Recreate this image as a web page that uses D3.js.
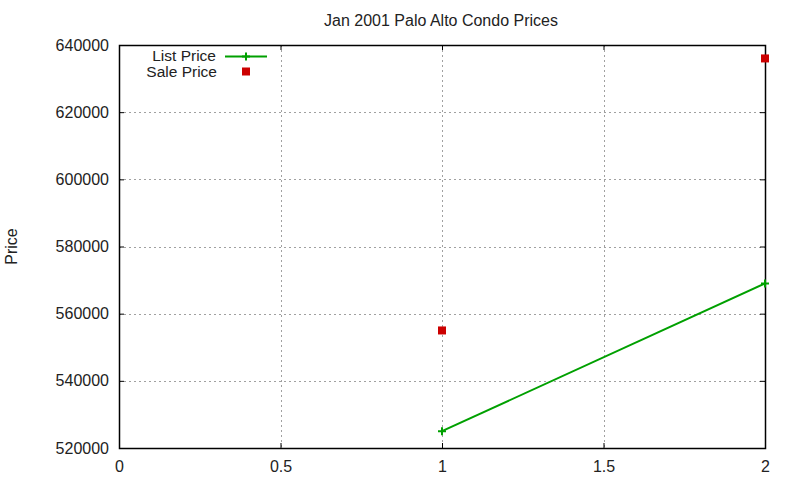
<!DOCTYPE html>
<html>
<head>
<meta charset="utf-8">
<script src="https://cdn.jsdelivr.net/npm/d3@7"></script>
<style>
  body { margin: 0; background: white; }
  text { font-family: "Liberation Sans", Arial, sans-serif; fill: #222; }
</style>
</head>
<body>
<div id="chart"></div>
<script>
// ---------- data ----------
const listX = [1, 2];
const listPrice = [525000, 569000];
const saleX = [1, 2];
const salePrice = [555000, 636000];
const xTicks = [0, 0.5, 1, 1.5, 2];
const yTicks = [520000, 540000, 560000, 580000, 600000, 620000, 640000];

// ---------- layout ----------
const width = 800, height = 480;
const margin = { left: 119, right: 35, top: 45, bottom: 32 };

const svg = d3.select("#chart").append("svg")
    .attr("width", width)
    .attr("height", height);

const x = d3.scaleLinear().domain([0, 2]).range([margin.left, width - margin.right]);
const y = d3.scaleLinear().domain([520000, 640000]).range([height - margin.bottom, margin.top]);

// grid
const grid = svg.append("g")
    .attr("stroke", "#a0a0a0")
    .attr("stroke-width", 1)
    .attr("stroke-dasharray", "2,3");
grid.selectAll(".gx")
    .data(xTicks.filter(d => d > 0 && d < 2))
    .join("line")
    .attr("x1", d => Math.round(x(d)) + 0.5).attr("x2", d => Math.round(x(d)) + 0.5)
    .attr("y1", y.range()[1]).attr("y2", y.range()[0]);
grid.selectAll(".gy")
    .data(yTicks.filter(d => d > 520000 && d < 640000))
    .join("line")
    .attr("y1", d => Math.round(y(d)) + 0.5).attr("y2", d => Math.round(y(d)) + 0.5)
    .attr("x1", x.range()[0]).attr("x2", x.range()[1]);

// axes (inward ticks, mirrored like gnuplot)
const axisStyle = g => {
    g.select(".domain").remove();
    g.selectAll(".tick line").attr("stroke", "#000");
    g.selectAll(".tick text").style("font-size", "16px").attr("fill", "#222");
};

svg.append("g")
    .attr("transform", `translate(0,${y.range()[0]})`)
    .call(d3.axisBottom(x).tickValues(xTicks).tickSizeInner(-5).tickPadding(13)
        .tickFormat(d3.format("")))
    .call(axisStyle);

svg.append("g")
    .attr("transform", `translate(0,${y.range()[1]})`)
    .call(d3.axisTop(x).tickValues(xTicks).tickSizeInner(-5).tickFormat(""))
    .call(axisStyle);

svg.append("g")
    .attr("transform", `translate(${x.range()[0]},0)`)
    .call(d3.axisLeft(y).tickValues(yTicks).tickSizeInner(-5).tickPadding(10)
        .tickFormat(d3.format("d")))
    .call(axisStyle);

svg.append("g")
    .attr("transform", `translate(${x.range()[1]},0)`)
    .call(d3.axisRight(y).tickValues(yTicks).tickSizeInner(-5).tickFormat(""))
    .call(axisStyle);

// frame
svg.append("rect")
    .attr("x", x.range()[0] + 0.5)
    .attr("y", y.range()[1] + 0.5)
    .attr("width", x.range()[1] - x.range()[0])
    .attr("height", y.range()[0] - y.range()[1])
    .attr("fill", "none")
    .attr("stroke", "#000")
    .attr("stroke-width", 1.5);

// title and axis label
svg.append("text")
    .attr("x", 441).attr("y", 26)
    .attr("text-anchor", "middle")
    .style("font-size", "16px")
    .text("Jan 2001 Palo Alto Condo Prices");

svg.append("text")
    .attr("transform", `translate(17,${(y.range()[0] + y.range()[1]) / 2}) rotate(-90)`)
    .attr("text-anchor", "middle")
    .style("font-size", "16px")
    .text("Price");

// ---------- series ----------
const green = "#00a000", red = "#cc0000";
const plus = (g, cx, cy) => {
    g.append("path")
        .attr("d", `M${cx - 4},${cy}H${cx + 4}M${cx},${cy - 4}V${cy + 4}`)
        .attr("stroke", green).attr("stroke-width", 2);
};

const listData = listX.map((d, i) => [d, listPrice[i]]);
svg.append("path")
    .datum(listData)
    .attr("fill", "none")
    .attr("stroke", green)
    .attr("stroke-width", 2)
    .attr("d", d3.line().x(d => x(d[0])).y(d => y(d[1])));
const marks = svg.append("g");
listData.forEach(d => plus(marks, x(d[0]), y(d[1])));

const saleData = saleX.map((d, i) => [d, salePrice[i]]);
svg.append("g").selectAll("rect")
    .data(saleData)
    .join("rect")
    .attr("x", d => x(d[0]) - 4)
    .attr("y", d => y(d[1]) - 4)
    .attr("width", 8).attr("height", 8)
    .attr("fill", red);

// ---------- legend ----------
const legend = svg.append("g").style("font-size", "15.5px");
legend.append("text")
    .attr("x", 216).attr("y", 61)
    .attr("text-anchor", "end")
    .text("List Price");
legend.append("line")
    .attr("x1", 225).attr("x2", 267)
    .attr("y1", 56.5).attr("y2", 56.5)
    .attr("stroke", green).attr("stroke-width", 2);
plus(legend, 246, 56.5);

legend.append("text")
    .attr("x", 217).attr("y", 76.5)
    .attr("text-anchor", "end")
    .text("Sale Price");
legend.append("rect")
    .attr("x", 242).attr("y", 67.5)
    .attr("width", 8).attr("height", 8)
    .attr("fill", red);
</script>
</body>
</html>
